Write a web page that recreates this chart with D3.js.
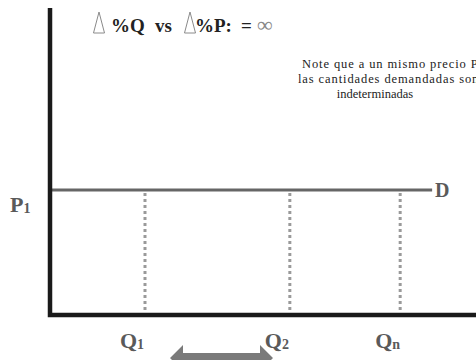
<!DOCTYPE html>
<html>
<head>
<meta charset="utf-8">
<script src="https://cdn.jsdelivr.net/npm/d3@7"></script>
<style>
  html, body { margin: 0; padding: 0; background: #fff; }
  svg { display: block; }
</style>
</head>
<body>
<div id="chart"></div>
<script>
// Perfectly elastic demand: one price, many possible quantities
const quantityLabels = ["Q", "Q", "Q"];
const quantitySubs = ["1", "2", "n"];
const quantityValues = [22.3, 56.3, 82.2];
const priceLabel = "P";
const priceSub = "1";
const priceValue = 40.3;
const demandEnd = 89.7;
const noteLines = [
  "Note que a un mismo precio P",
  "las cantidades demandadas son",
  "indeterminadas"
];

const W = 476, H = 360;
const svg = d3.select("#chart").append("svg")
  .attr("width", W).attr("height", H);

const x = d3.scaleLinear().domain([0, 100]).range([50, 476]);
const y = d3.scaleLinear().domain([0, 100]).range([315, 5]);

const serif = "'Liberation Serif', 'Times New Roman', serif";
const grey = "#5a5a5a";

// dotted drop lines from demand to the quantity axis
svg.selectAll("line.drop").data(quantityValues).join("line")
  .attr("class", "drop")
  .attr("x1", d => x(d)).attr("x2", d => x(d))
  .attr("y1", y(priceValue) + 3).attr("y2", y(0) - 2)
  .attr("stroke", "#9a9a9a").attr("stroke-width", 3)
  .attr("stroke-dasharray", "3,3");

// demand curve (horizontal)
svg.append("line")
  .attr("x1", x(0)).attr("x2", x(demandEnd))
  .attr("y1", y(priceValue)).attr("y2", y(priceValue))
  .attr("stroke", "#666").attr("stroke-width", 3);

svg.append("text")
  .attr("x", x(demandEnd) + 3).attr("y", y(priceValue) + 7)
  .attr("font-family", serif).attr("font-weight", "bold")
  .attr("font-size", 20).attr("fill", grey)
  .text("D");

// axes
svg.append("path")
  .attr("d", `M${x(0)},${y(99)} V${y(0)} H${x(100)}`)
  .attr("fill", "none").attr("stroke", "#1a1a1a").attr("stroke-width", 4.5);

// price label
const pl = svg.append("text")
  .attr("x", 10).attr("y", y(priceValue) + 22)
  .attr("font-family", serif).attr("font-weight", "bold")
  .attr("font-size", 22).attr("fill", grey);
pl.append("tspan").text(priceLabel);
pl.append("tspan").attr("font-size", 14).attr("dy", 1).text(priceSub);

// quantity labels
svg.selectAll("text.q").data(quantityValues).join("text")
  .attr("class", "q")
  .attr("x", (d, i) => x(d) - 25).attr("y", 348)
  .attr("font-family", serif).attr("font-weight", "bold")
  .attr("font-size", 22).attr("fill", grey)
  .each(function (d, i) {
    const t = d3.select(this);
    t.append("tspan").text(quantityLabels[i]);
    t.append("tspan").attr("font-size", 14).attr("dy", 1).text(quantitySubs[i]);
  });

// double-headed arrow between Q1 and Q2
const ay = 358;
const ax1 = 170, ax2 = 273;
svg.append("path")
  .attr("d", `M${ax1},${ay} L${ax1 + 13},${ay - 13} L${ax1 + 13},${ay - 5}
              L${ax2 - 13},${ay - 5} L${ax2 - 13},${ay - 13} L${ax2},${ay}
              L${ax2 - 13},${ay + 13} L${ax2 - 13},${ay + 5}
              L${ax1 + 13},${ay + 5} L${ax1 + 13},${ay + 13} Z`)
  .attr("fill", "#7a7a7a");

// title with delta triangles
function delta(cx) {
  svg.append("path")
    .attr("d", `M${cx},12 L${cx - 5.5},33 L${cx + 5.5},33 Z`)
    .attr("fill", "none").attr("stroke", "#8a8a8a").attr("stroke-width", 1);
}
delta(99);
delta(190);
const title = svg.append("text")
  .attr("y", 32)
  .attr("font-family", serif).attr("font-weight", "bold")
  .attr("font-size", 19).attr("fill", "#222");
title.append("tspan").attr("x", 111).text("%Q");
title.append("tspan").attr("x", 155).text("vs");
title.append("tspan").attr("x", 195).text("%P:");
title.append("tspan").attr("x", 241).text("=");
title.append("tspan").attr("x", 257).attr("font-weight", "normal")
  .attr("fill", "#888").attr("font-size", 22).text("∞");

// note: first two lines run past the right edge, last one is centred
const noteX = [302, 298, 375];
svg.selectAll("text.note").data(noteLines).join("text")
  .attr("class", "note")
  .attr("x", (d, i) => noteX[i]).attr("y", (d, i) => 68 + i * 15)
  .attr("text-anchor", (d, i) => i < 2 ? "start" : "middle")
  .attr("letter-spacing", (d, i) => i < 2 ? 0.9 : 0)
  .attr("font-family", serif).attr("font-size", 12.5).attr("fill", "#222")
  .text(d => d);
</script>
</body>
</html>
